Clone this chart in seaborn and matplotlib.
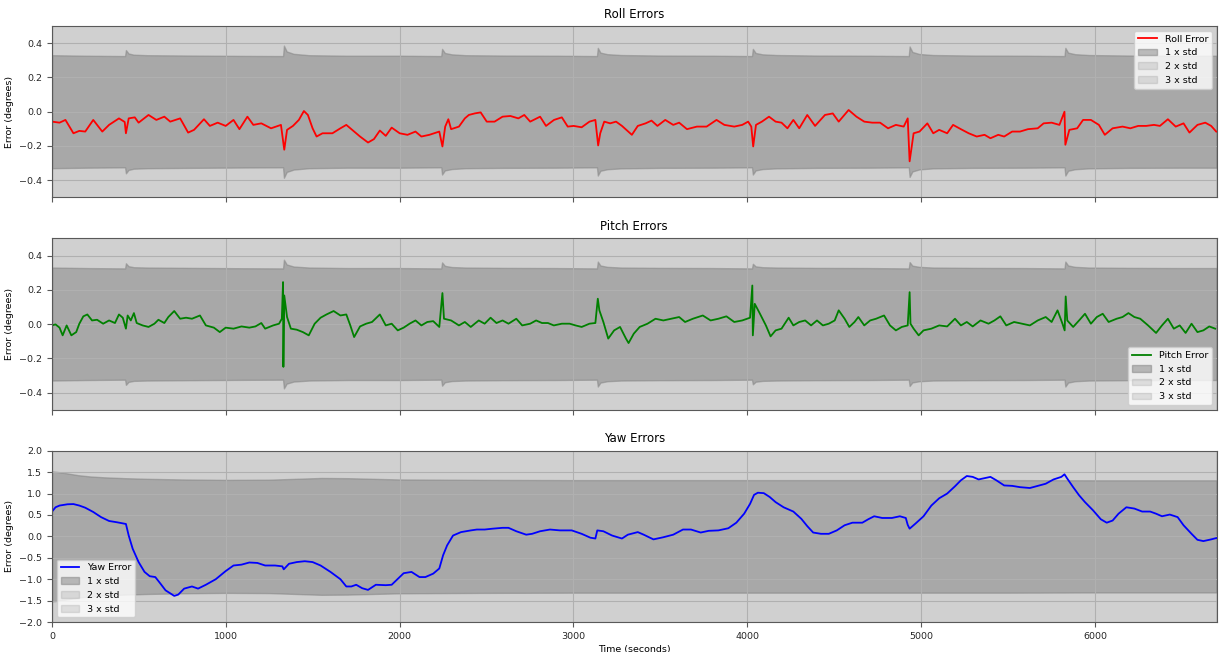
import numpy as np
import pandas as pd
import matplotlib
matplotlib.use("Agg")
import matplotlib.pyplot as plt
import seaborn as sns

# ---- data ----
roll_t = [0, 43, 77, 123, 157, 191, 237, 289, 328, 385, 418, 425, 441, 476, 498, 555, 600, 646, 680,
          737, 783, 817, 874, 908, 953, 999, 1044, 1078, 1124, 1158, 1204, 1260, 1317, 1336, 1352, 1386,
          1420, 1449, 1472, 1499, 1522, 1556, 1613, 1659, 1693, 1727, 1772, 1818, 1852, 1886, 1920, 1954,
          2000, 2045, 2091, 2125, 2171, 2228, 2246, 2262, 2280, 2296, 2341, 2375, 2398, 2432, 2466, 2501,
          2546, 2592, 2637, 2683, 2717, 2751, 2808, 2842, 2888, 2933, 2967, 3001, 3047, 3092, 3126, 3142,
          3154, 3177, 3211, 3245, 3279, 3336, 3370, 3415, 3449, 3483, 3528, 3574, 3608, 3653, 3710, 3766,
          3823, 3868, 3925, 3971, 4005, 4023, 4034, 4050, 4084, 4125, 4163, 4197, 4231, 4265, 4299, 4345,
          4390, 4447, 4492, 4526, 4583, 4628, 4673, 4719, 4764, 4810, 4855, 4900, 4923, 4934, 4957, 4991,
          5036, 5070, 5104, 5150, 5184, 5229, 5274, 5320, 5365, 5399, 5444, 5478, 5524, 5569, 5615, 5671,
          5705, 5751, 5796, 5825, 5830, 5853, 5898, 5932, 5977, 6023, 6057, 6102, 6159, 6204, 6249, 6295,
          6340, 6374, 6420, 6465, 6510, 6544, 6590, 6635, 6669, 6698]
roll_err = [-0.058, -0.064, -0.048, -0.126, -0.112, -0.116, -0.048, -0.116, -0.077, -0.039, -0.060, -0.126,
            -0.039, -0.033, -0.064, -0.019, -0.048, -0.029, -0.058, -0.039, -0.122, -0.106, -0.044, -0.083,
            -0.064, -0.083, -0.048, -0.102, -0.029, -0.077, -0.068, -0.097, -0.077, -0.222, -0.106, -0.083,
            -0.048, 0.004, -0.019, -0.097, -0.145, -0.126, -0.126, -0.097, -0.077, -0.106, -0.145, -0.180,
            -0.160, -0.110, -0.141, -0.093, -0.126, -0.135, -0.116, -0.145, -0.135, -0.116, -0.203, -0.087,
            -0.044, -0.102, -0.087, -0.039, -0.019, -0.010, -0.004, -0.058, -0.058, -0.029, -0.025, -0.039,
            -0.019, -0.058, -0.029, -0.083, -0.048, -0.033, -0.087, -0.083, -0.091, -0.058, -0.048, -0.197,
            -0.126, -0.058, -0.068, -0.058, -0.083, -0.135, -0.083, -0.068, -0.052, -0.083, -0.048, -0.077,
            -0.064, -0.102, -0.087, -0.087, -0.048, -0.077, -0.087, -0.077, -0.058, -0.087, -0.203, -0.077,
            -0.058, -0.029, -0.058, -0.064, -0.097, -0.048, -0.097, -0.019, -0.083, -0.019, -0.010, -0.058,
            0.010, -0.029, -0.058, -0.064, -0.064, -0.097, -0.077, -0.087, -0.039, -0.290, -0.126, -0.116,
            -0.068, -0.126, -0.106, -0.126, -0.077, -0.102, -0.126, -0.145, -0.135, -0.155, -0.135, -0.145,
            -0.116, -0.116, -0.102, -0.097, -0.068, -0.064, -0.077, 0.000, -0.193, -0.106, -0.097, -0.048,
            -0.048, -0.077, -0.135, -0.097, -0.087, -0.097, -0.083, -0.083, -0.077, -0.083, -0.044, -0.087,
            -0.068, -0.122, -0.077, -0.064, -0.083, -0.116]

pitch_t = [0, 20, 43, 61, 84, 111, 139, 157, 180, 203, 230, 259, 294, 328, 362, 385, 407, 425, 435, 453,
           471, 487, 521, 555, 589, 612, 646, 669, 703, 737, 771, 805, 851, 885, 931, 965, 999, 1044, 1090,
           1135, 1170, 1204, 1226, 1272, 1306, 1322, 1329, 1331, 1336, 1352, 1374, 1408, 1443, 1477, 1511,
           1545, 1579, 1620, 1659, 1693, 1716, 1738, 1772, 1807, 1841, 1886, 1920, 1954, 1989, 2023, 2057,
           2091, 2125, 2159, 2193, 2228, 2246, 2255, 2296, 2341, 2375, 2409, 2455, 2489, 2523, 2557, 2592,
           2626, 2671, 2705, 2751, 2785, 2819, 2853, 2887, 2933, 2978, 3012, 3047, 3092, 3126, 3140, 3149,
           3172, 3200, 3234, 3268, 3302, 3317, 3347, 3381, 3426, 3472, 3517, 3562, 3608, 3642, 3687, 3744,
           3789, 3834, 3880, 3925, 3971, 4016, 4029, 4032, 4043, 4073, 4107, 4134, 4163, 4197, 4238, 4265,
           4299, 4333, 4367, 4401, 4435, 4469, 4503, 4526, 4560, 4587, 4617, 4639, 4673, 4707, 4741, 4787,
           4821, 4855, 4889, 4923, 4934, 4939, 4957, 4986, 5014, 5059, 5104, 5150, 5195, 5229, 5263, 5297,
           5342, 5388, 5422, 5456, 5490, 5535, 5580, 5626, 5671, 5717, 5751, 5785, 5812, 5826, 5832, 5841,
           5875, 5909, 5943, 5977, 6011, 6045, 6079, 6125, 6159, 6193, 6227, 6261, 6306, 6352, 6386, 6420,
           6454, 6488, 6522, 6556, 6590, 6624, 6658, 6692]
pitch_err = [-0.008, -0.002, -0.021, -0.066, -0.008, -0.066, -0.047, 0.002, 0.045, 0.056, 0.021, 0.025,
             0.002, 0.021, 0.006, 0.056, 0.037, -0.027, 0.050, 0.021, 0.064, 0.006, -0.008, -0.017, 0.002,
             0.025, 0.006, 0.041, 0.076, 0.031, 0.037, 0.031, 0.050, -0.008, -0.021, -0.047, -0.021, -0.027,
             -0.014, -0.021, -0.014, 0.006, -0.027, -0.008, 0.002, 0.031, 0.245, -0.250, 0.167, 0.041,
             -0.027, -0.033, -0.047, -0.066, 0.002, 0.037, 0.056, 0.076, 0.050, 0.056, -0.008, -0.076,
             -0.014, 0.002, 0.012, 0.056, -0.008, 0.002, -0.037, -0.021, 0.002, 0.021, -0.008, 0.012, 0.017,
             -0.017, 0.181, 0.031, 0.021, -0.008, 0.012, -0.017, 0.021, 0.002, 0.037, 0.006, 0.021, 0.002,
             0.031, -0.008, 0.002, 0.021, 0.006, 0.006, -0.008, 0.002, 0.002, -0.008, -0.017, 0.002, 0.006,
             0.148, 0.080, 0.012, -0.085, -0.037, -0.017, -0.085, -0.111, -0.056, -0.017, 0.002, 0.031,
             0.021, 0.031, 0.041, 0.012, 0.031, 0.050, 0.021, 0.031, 0.045, 0.012, 0.021, 0.037, 0.225,
             -0.066, 0.118, 0.060, -0.008, -0.072, -0.037, -0.027, 0.037, -0.008, 0.012, 0.021, -0.008,
             0.021, -0.008, 0.002, 0.021, 0.080, 0.031, -0.017, 0.012, 0.041, -0.008, 0.021, 0.031, 0.050,
             -0.008, -0.037, -0.017, -0.008, 0.186, 0.002, -0.027, -0.066, -0.037, -0.027, -0.008, -0.014,
             0.031, -0.008, 0.012, -0.014, 0.021, 0.002, 0.021, 0.045, -0.008, 0.012, 0.002, -0.008, 0.021,
             0.041, 0.012, 0.080, 0.006, -0.037, 0.161, 0.021, -0.017, 0.021, 0.060, 0.002, 0.041, 0.060,
             0.012, 0.031, 0.041, 0.064, 0.041, 0.031, -0.008, -0.052, -0.008, 0.031, -0.027, -0.008,
             -0.052, 0.002, -0.047, -0.037, -0.014, -0.027]

yaw_t = [0, 20, 43, 89, 123, 157, 191, 237, 282, 328, 373, 425, 441, 464, 498, 532, 562, 594, 623, 653,
         703, 726, 760, 805, 840, 885, 942, 999, 1044, 1090, 1135, 1181, 1226, 1283, 1325, 1333, 1363,
         1408, 1454, 1499, 1545, 1602, 1659, 1693, 1722, 1750, 1784, 1818, 1863, 1920, 1954, 2000, 2023,
         2068, 2114, 2148, 2193, 2228, 2250, 2273, 2307, 2353, 2410, 2444, 2489, 2535, 2592, 2626, 2671,
         2728, 2762, 2808, 2865, 2922, 2990, 3047, 3097, 3126, 3137, 3172, 3222, 3279, 3313, 3370, 3404,
         3460, 3517, 3574, 3630, 3676, 3732, 3778, 3834, 3891, 3937, 3982, 4016, 4039, 4061, 4095, 4129,
         4163, 4209, 4265, 4311, 4345, 4379, 4424, 4469, 4515, 4560, 4605, 4662, 4696, 4730, 4776, 4832,
         4878, 4912, 4923, 4934, 4968, 5014, 5059, 5104, 5150, 5195, 5229, 5263, 5297, 5331, 5365, 5399,
         5433, 5478, 5524, 5569, 5626, 5671, 5717, 5762, 5807, 5825, 5841, 5875, 5909, 5943, 5989, 6034,
         6068, 6102, 6136, 6181, 6227, 6272, 6318, 6352, 6386, 6431, 6476, 6510, 6556, 6590, 6624, 6669,
         6698]
yaw_err = [0.58, 0.68, 0.72, 0.75, 0.755, 0.72, 0.67, 0.57, 0.45, 0.36, 0.33, 0.29, 0.02, -0.29, -0.60,
           -0.83, -0.93, -0.95, -1.10, -1.26, -1.39, -1.36, -1.22, -1.17, -1.22, -1.13, -1.00, -0.81, -0.68,
           -0.66, -0.61, -0.62, -0.68, -0.68, -0.70, -0.77, -0.64, -0.60, -0.58, -0.60, -0.68, -0.83, -1.00,
           -1.17, -1.17, -1.13, -1.21, -1.25, -1.13, -1.14, -1.13, -0.95, -0.86, -0.83, -0.95, -0.95, -0.87,
           -0.75, -0.44, -0.21, 0.02, 0.10, 0.14, 0.16, 0.16, 0.18, 0.20, 0.20, 0.12, 0.04, 0.06, 0.12, 0.16,
           0.14, 0.14, 0.06, -0.03, -0.05, 0.14, 0.12, 0.02, -0.05, 0.04, 0.10, 0.04, -0.07, -0.02, 0.04,
           0.16, 0.16, 0.09, 0.13, 0.14, 0.19, 0.32, 0.53, 0.76, 0.97, 1.02, 1.01, 0.92, 0.80, 0.68, 0.58,
           0.41, 0.24, 0.09, 0.06, 0.06, 0.14, 0.26, 0.32, 0.32, 0.40, 0.47, 0.43, 0.43, 0.47, 0.43, 0.27,
           0.18, 0.30, 0.47, 0.72, 0.89, 1.00, 1.17, 1.31, 1.41, 1.39, 1.33, 1.36, 1.39, 1.31, 1.19, 1.18,
           1.15, 1.13, 1.18, 1.23, 1.33, 1.39, 1.45, 1.35, 1.15, 0.96, 0.80, 0.61, 0.40, 0.32, 0.37, 0.53,
           0.68, 0.65, 0.58, 0.58, 0.53, 0.47, 0.51, 0.45, 0.26, 0.06, -0.08, -0.11, -0.07, -0.04]

# 1-sigma envelopes
roll_std_t = [0, 200, 420, 425, 440, 470, 550, 800, 1100, 1329, 1334, 1350, 1390, 1480, 1700, 2000, 2239,
              2244, 2260, 2300, 2380, 2600, 2900, 3135, 3140, 3155, 3195, 3275, 3500, 3800, 4027, 4032,
              4048, 4088, 4170, 4400, 4700, 4929, 4934, 4950, 4990, 5070, 5300, 5600, 5825, 5830, 5846,
              5886, 5966, 6200, 6500, 6700]
roll_std = [0.330, 0.327, 0.325, 0.360, 0.340, 0.333, 0.330, 0.328, 0.326, 0.325, 0.386, 0.352, 0.338,
            0.330, 0.327, 0.327, 0.325, 0.367, 0.343, 0.335, 0.330, 0.328, 0.327, 0.325, 0.373, 0.345,
            0.336, 0.331, 0.328, 0.327, 0.325, 0.367, 0.343, 0.335, 0.331, 0.328, 0.327, 0.325, 0.381,
            0.349, 0.337, 0.331, 0.328, 0.327, 0.325, 0.373, 0.345, 0.336, 0.331, 0.328, 0.327, 0.327]
pitch_std = [0.330, 0.327, 0.325, 0.355, 0.338, 0.332, 0.330, 0.328, 0.326, 0.325, 0.376, 0.348, 0.336,
             0.330, 0.327, 0.327, 0.325, 0.360, 0.340, 0.333, 0.330, 0.328, 0.327, 0.325, 0.365, 0.342,
             0.334, 0.330, 0.328, 0.327, 0.325, 0.352, 0.337, 0.332, 0.330, 0.328, 0.327, 0.325, 0.362,
             0.341, 0.334, 0.330, 0.328, 0.327, 0.325, 0.365, 0.342, 0.334, 0.330, 0.328, 0.327, 0.327]
yaw_std_t = [0, 40, 90, 150, 220, 300, 420, 550, 750, 1000, 1250, 1400, 1550, 1700, 1850, 2000, 2500,
             3000, 3500, 4000, 4500, 5000, 5500, 6000, 6700]
yaw_std = [1.52, 1.50, 1.47, 1.43, 1.40, 1.38, 1.36, 1.345, 1.33, 1.32, 1.325, 1.345, 1.365, 1.36, 1.345,
           1.33, 1.32, 1.315, 1.315, 1.315, 1.315, 1.315, 1.315, 1.31, 1.31]

plt.rcParams.update({
    "font.family": ["DejaVu Sans"],
    "axes.axisbelow": "line",  # grid over the bands, under the error line
    "axes.edgecolor": "0.35",
    "xtick.color": "0.35",
    "ytick.color": "0.35",
    "xtick.labelcolor": "0.15",
    "ytick.labelcolor": "0.15",
    "grid.color": "#b0b0b0",
    "grid.linewidth": 0.8,
})


def plot_errors(ax, t, err, std_t, std, color, name, title, ylim, legend_loc):
    std = np.asarray(std)
    df = pd.DataFrame({"time": t, "error": err})
    sns.lineplot(data=df, x="time", y="error", ax=ax, color=color, lw=1.3, label=name, zorder=2)
    ax.fill_between(std_t, -std, std, color="gray", alpha=0.5, label="1 x std")
    ax.fill_between(std_t, -2 * std, 2 * std, color="gray", alpha=0.2, label="2 x std")
    ax.fill_between(std_t, -3 * std, 3 * std, color="gray", alpha=0.2, label="3 x std")
    ax.set_title(title, fontsize=8.5)
    ax.set_ylabel("Error (degrees)", fontsize=6.8)
    ax.set_xlabel("")
    ax.set_ylim(*ylim)
    ax.set_xlim(0, 6700)
    ax.grid(True)
    ax.tick_params(labelsize=6.8, width=0.8, length=3.5)
    ax.legend(loc=legend_loc, fontsize=6.8, framealpha=0.8)


fig, axes = plt.subplots(3, 1, figsize=(12.19, 6.52), dpi=100, sharex=True)
fig.subplots_adjust(left=0.0427, right=0.998, bottom=0.046, top=0.960, hspace=0.24)

plot_errors(axes[0], roll_t, roll_err, roll_std_t, roll_std, "red", "Roll Error", "Roll Errors",
            (-0.5, 0.5), "upper right")
plot_errors(axes[1], pitch_t, pitch_err, roll_std_t, pitch_std, "green", "Pitch Error", "Pitch Errors",
            (-0.5, 0.5), "lower right")
plot_errors(axes[2], yaw_t, yaw_err, yaw_std_t, yaw_std, "blue", "Yaw Error", "Yaw Errors",
            (-2.0, 2.0), "lower left")

axes[1].set_xlabel("Time (seconds)", fontsize=6.8, labelpad=3)
axes[2].set_xlabel("Time (seconds)", fontsize=6.8, labelpad=3)
axes[2].set_xticks([0, 1000, 2000, 3000, 4000, 5000, 6000])

fig.savefig("out.png", dpi=100)
